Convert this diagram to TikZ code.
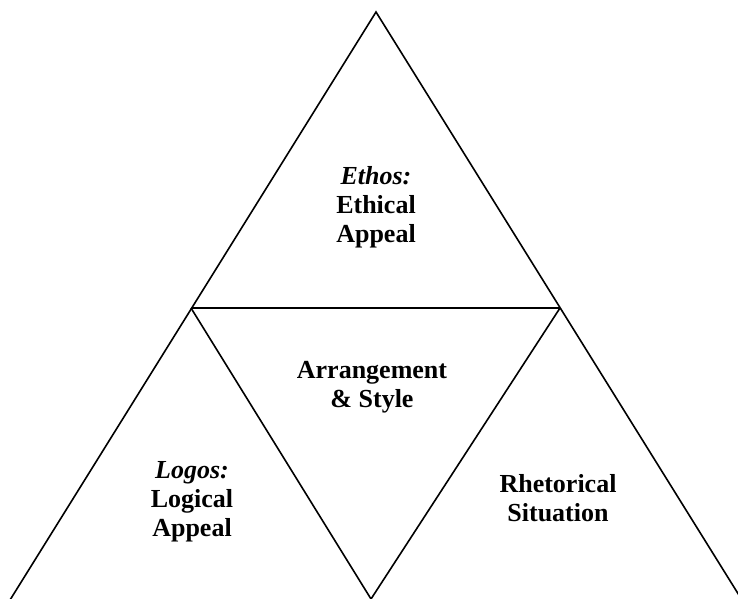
\documentclass[tikz,border=0pt]{standalone}
\usepackage{fontspec}
\setmainfont{Liberation Serif}
\usetikzlibrary{positioning}

\begin{document}
\begin{tikzpicture}[x=1pt,y=1pt,line width=1.6pt]
    \tikzstyle{every node}=[inner sep=0,outer sep=0]
    \tikzstyle{appeal}=[align=center,font=\fontsize{26}{29}\selectfont\bfseries]
    \useasboundingbox (0,0) rectangle (738,598);
    \clip (0,0) rectangle (738,598);
    \coordinate (top) at (376,586);
    \coordinate (l) at (191,290);
    \coordinate (r) at (560,290);
    \coordinate (b) at (371,-1);
    \coordinate (bl) at (10,-2);
    \coordinate (br) at (742,-2);
    \draw (bl) -- (top) -- (br);
    \draw (l) -- (r);
    \draw (l) -- (b) -- (r);
    \node[appeal] (ethos) at (376,391) {\textit{Ethos:}\\Ethical\\Appeal};
    \node[appeal] (style) at (372,211) {Arrangement\\\& Style};
    \node[appeal] (logos) at (192,96) {\textit{Logos:}\\Logical\\Appeal};
    \node[appeal] (rhet) at (558,100) {Rhetorical\\Situation};
\end{tikzpicture}
\end{document}
